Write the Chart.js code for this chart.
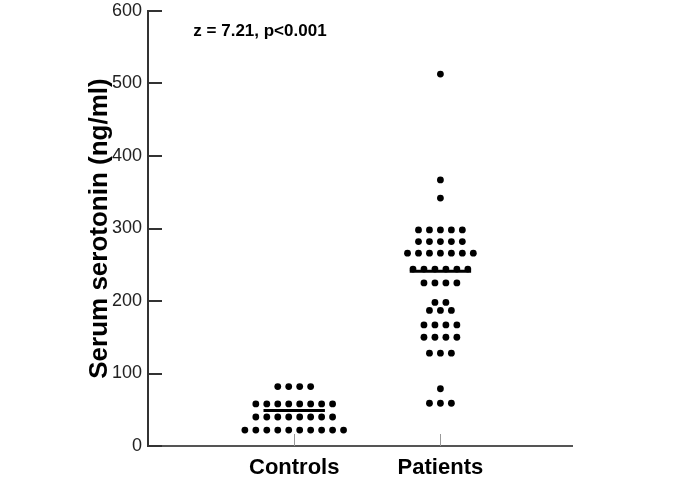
<!DOCTYPE html>
<html>
<head>
<meta charset="utf-8">
<script src="https://cdn.jsdelivr.net/npm/chart.js@4/dist/chart.umd.min.js"></script>
<style>
  html, body { margin: 0; padding: 0; background: #fff; }
  #wrap { width: 685px; height: 484px; }
</style>
</head>
<body>
<div id="wrap"><canvas id="chart" width="685" height="484"></canvas></div>
<script>
// data (ng/ml)
const categories = ['Controls', 'Patients'];
const controls = [
    22, 22, 22, 22, 22, 22, 22, 22, 22, 22,
    40, 40, 40, 40, 40, 40, 40, 40,
    58, 58, 58, 58, 58, 58, 58, 58,
    82, 82, 82, 82
];
const patients = [
    513, 367, 342,
    298, 298, 298, 298, 298,
    282, 282, 282, 282, 282,
    266, 266, 266, 266, 266, 266, 266,
    244, 244, 244, 244, 244, 244,
    225, 225, 225, 225,
    198, 198,
    187, 187, 187,
    167, 167, 167, 167,
    150, 150, 150, 150,
    128, 128, 128,
    79,
    59, 59, 59
];
const medians = [49, 241];
const yTicks = [0, 100, 200, 300, 400, 500, 600];
const statText = 'z = 7.21, p<0.001';

const dotGap = 0.075;      // horizontal spacing between dots in a row (x units)
const medianHalf = 0.21;   // half width of median bar

// spread equal values side by side, centred on the category
function swarm(values, center) {
    const rows = new Map();
    values.forEach(v => rows.set(v, (rows.get(v) || 0) + 1));
    const pts = [];
    rows.forEach((n, v) => {
        for (let k = 0; k < n; k++) {
            pts.push({ x: center + (k - (n - 1) / 2) * dotGap, y: v });
        }
    });
    return pts;
}

const groups = [controls, patients];
const datasets = [];
groups.forEach((vals, i) => {
    datasets.push({
        label: categories[i],
        data: swarm(vals, i + 1),
        backgroundColor: '#000',
        borderColor: '#000',
        pointRadius: 3.4,
        pointBorderWidth: 0,
        showLine: false,
        clip: false
    });
});
medians.forEach((m, i) => {
    datasets.push({
        label: categories[i] + ' median',
        data: [{ x: i + 1 - medianHalf, y: m }, { x: i + 1 + medianHalf, y: m }],
        showLine: true,
        borderColor: '#000',
        borderWidth: 3,
        pointRadius: 0
    });
});

// inward tick marks + stat text
const extras = {
    id: 'extras',
    afterDraw(chart) {
        const ctx = chart.ctx;
        const xs = chart.scales.x, ys = chart.scales.y;
        const area = chart.chartArea;
        ctx.save();
        ctx.strokeStyle = '#333';
        ctx.lineWidth = 2;
        yTicks.forEach(t => {
            const py = Math.round(ys.getPixelForValue(t));
            ctx.beginPath();
            ctx.moveTo(area.left, py);
            ctx.lineTo(area.left + 14, py);
            ctx.stroke();
        });
        ctx.strokeStyle = '#999';
        ctx.lineWidth = 1;
        categories.forEach((c, i) => {
            const px = Math.round(xs.getPixelForValue(i + 1)) + 0.5;
            ctx.beginPath();
            ctx.moveTo(px, area.bottom);
            ctx.lineTo(px, area.bottom - 12);
            ctx.stroke();
        });
        ctx.fillStyle = '#000';
        ctx.font = 'bold 17px "Liberation Sans", Arial, sans-serif';
        ctx.textBaseline = 'middle';
        ctx.textAlign = 'left';
        ctx.fillText(statText, xs.getPixelForValue(0.31), ys.getPixelForValue(572));
        ctx.restore();
    }
};

new Chart(document.getElementById('chart'), {
    type: 'scatter',
    data: { datasets: datasets },
    options: {
        responsive: false,
        animation: false,
        layout: { autoPadding: false, padding: { top: 11, right: 113, left: 0, bottom: 0 } },
        plugins: {
            legend: { display: false },
            tooltip: { enabled: false }
        },
        scales: {
            x: {
                type: 'linear',
                min: 0,
                max: 2.9,
                afterBuildTicks: s => { s.ticks = categories.map((c, i) => ({ value: i + 1 })); },
                afterFit: s => { s.height = 38; },
                ticks: {
                    callback: v => categories[v - 1],
                    color: '#000',
                    font: { family: '"Liberation Sans", Arial, sans-serif', size: 22, weight: 'bold' },
                    padding: 9,
                    maxRotation: 0
                },
                grid: { display: false, drawTicks: false },
                border: { display: true, color: '#555', width: 2 }
            },
            y: {
                min: 0,
                max: 600,
                afterBuildTicks: s => { s.ticks = yTicks.map(v => ({ value: v })); },
                afterFit: s => { s.width = 148; s.paddingTop = 0; },
                ticks: {
                    color: '#222',
                    font: { family: '"Liberation Sans", Arial, sans-serif', size: 18 },
                    padding: 6
                },
                title: {
                    display: true,
                    text: 'Serum serotonin (ng/ml)',
                    color: '#000',
                    font: { family: '"Liberation Sans", Arial, sans-serif', size: 26, weight: 'bold' },
                    padding: { top: 84, bottom: 0 }
                },
                grid: { display: false, drawTicks: false },
                border: { display: true, color: '#333', width: 2 }
            }
        }
    },
    plugins: [extras]
});
</script>
</body>
</html>
